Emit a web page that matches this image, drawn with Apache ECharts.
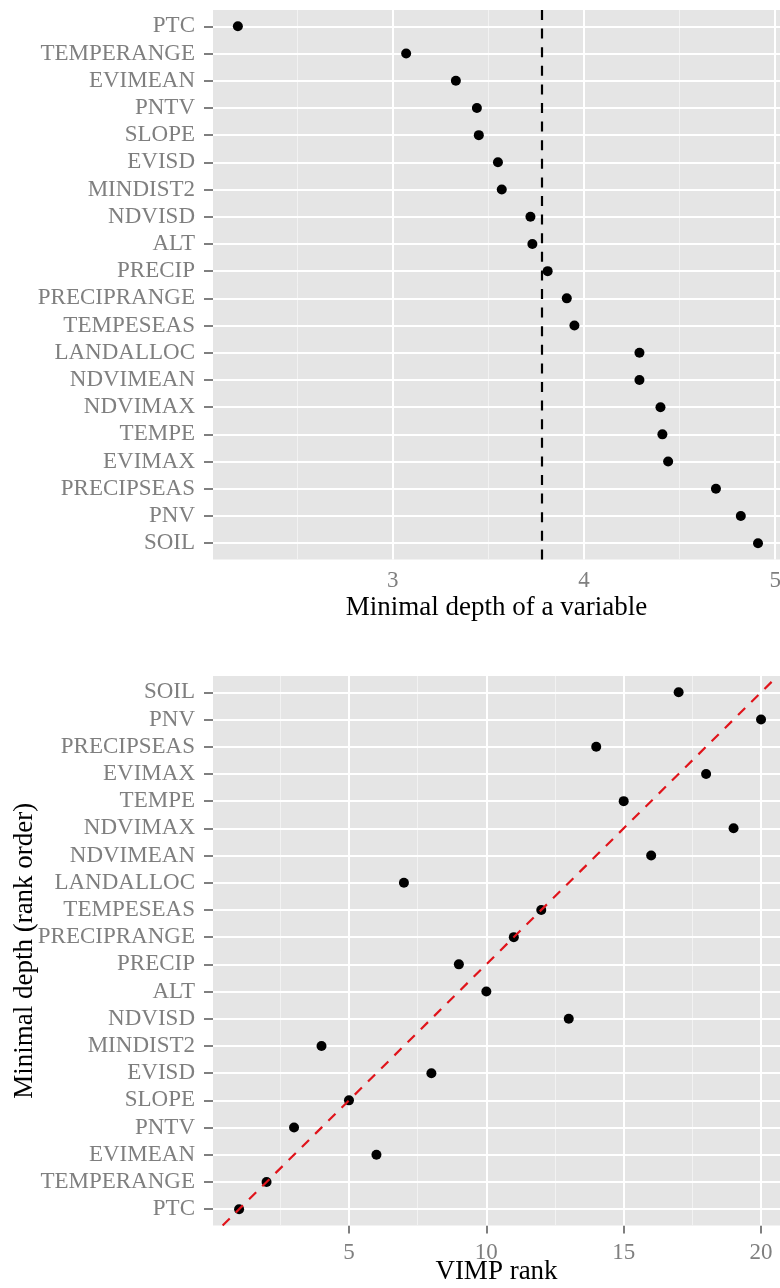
<!DOCTYPE html>
<html><head><meta charset="utf-8">
<script src="https://cdn.jsdelivr.net/npm/echarts@6/dist/echarts.min.js"></script>
<style>html,body{margin:0;padding:0;background:#fff}#c{width:780px;height:1288px}</style>
</head><body><div id="c"></div>
<script>
// Variables ordered by minimal depth (top panel order, rank 1 = PTC)
const categories = ['PTC','TEMPERANGE','EVIMEAN','PNTV','SLOPE','EVISD','MINDIST2','NDVISD','ALT','PRECIP','PRECIPRANGE','TEMPESEAS','LANDALLOC','NDVIMEAN','NDVIMAX','TEMPE','EVIMAX','PRECIPSEAS','PNV','SOIL'];
const minimalDepth = [2.19,3.07,3.33,3.44,3.45,3.55,3.57,3.72,3.73,3.81,3.91,3.95,4.29,4.29,4.40,4.41,4.44,4.69,4.82,4.91];
const depthThreshold = 3.78;
const vimpRank = [1,2,6,3,5,8,4,13,10,9,11,12,7,16,19,15,18,14,20,17];
const topMajorTicks = [3,4,5];
const topMinorTicks = [2.5,3.5,4.5];
const bottomMajorTicks = [5,10,15,20];
const bottomMinorTicks = [2.5,7.5,12.5,17.5];

const FONT = '"Liberation Serif", "DejaVu Serif", serif';
const GREY_TXT = '#7F7F7F';
const idx = categories.map((_, i) => i);
const ranks = categories.map((_, i) => i + 1);
const rankMin = 0.4, rankMax = 20.6;

function vLines(vals, width, color) { return vals.map(v => ({xAxis: v, lineStyle: {width: width, color: color, type: 'solid'}})); }
function hLines(vals, width, color) { return vals.map(v => ({yAxis: v, lineStyle: {width: width, color: color, type: 'solid'}})); }
function gridSeries(ai, data) {
  return {type: 'line', xAxisIndex: ai, yAxisIndex: ai, data: [], z: 1, silent: true,
    markLine: {silent: true, symbol: ['none','none'], label: {show: false}, animation: false, z: 1, data: data}};
}
function xAx(gi, min, max, ticks, margin, name, gap) {
  return {type: 'value', gridIndex: gi, min: min, max: max,
    splitLine: {show: false}, axisLine: {show: false},
    axisTick: {show: true, customValues: ticks, length: 8, lineStyle: {color: GREY_TXT, width: 2}},
    axisLabel: {customValues: ticks, margin: margin, color: GREY_TXT, fontSize: 23, fontFamily: FONT},
    name: name, nameLocation: 'middle', nameGap: gap, nameMoveOverlap: false,
    nameTextStyle: {fontSize: 27, color: '#000', fontFamily: FONT}};
}
function yAx(gi, min, max, vals, inverse, fmt, extra) {
  return Object.assign({type: 'value', gridIndex: gi, min: min, max: max, inverse: inverse,
    splitLine: {show: false}, axisLine: {show: false},
    axisTick: {show: true, customValues: vals, length: 9, lineStyle: {color: GREY_TXT, width: 2}},
    axisLabel: {customValues: vals, margin: 18, color: GREY_TXT, fontSize: 23, fontFamily: FONT, formatter: fmt}}, extra || {});
}

const chart = echarts.init(document.getElementById('c'), null, {renderer: 'canvas'});
chart.setOption({
  animation: false,
  backgroundColor: '#fff',
  grid: [
    {left: 213, top: 10, width: 567, height: 549.5, show: true, backgroundColor: '#E5E5E5', borderWidth: 0, containLabel: false, outerBoundsMode: 'none'},
    {left: 213, top: 676, width: 567, height: 549.5, show: true, backgroundColor: '#E5E5E5', borderWidth: 0, containLabel: false, outerBoundsMode: 'none'}
  ],
  xAxis: [
    xAx(0, 2.06, 5.025, topMajorTicks, 10, 'Minimal depth of a variable', 35),
    xAx(1, 0.05, 20.69, bottomMajorTicks, 16, 'VIMP rank', 33)
  ],
  yAxis: [
    yAx(0, -0.6, 19.6, idx, true, v => categories[Math.round(v)]),
    yAx(1, rankMin, rankMax, ranks, false, v => categories[Math.round(v) - 1],
      {name: 'Minimal depth (rank order)', nameLocation: 'middle', nameRotate: 90, nameGap: 175, nameMoveOverlap: false,
       nameTextStyle: {fontSize: 27, color: '#000', fontFamily: FONT}})
  ],
  series: [
    gridSeries(0, [].concat(vLines(topMinorTicks, 1, '#F2F2F2'), vLines(topMajorTicks, 2, '#FFFFFF'), hLines(idx, 2, '#FFFFFF'))),
    {type: 'scatter', xAxisIndex: 0, yAxisIndex: 0, z: 10, symbolSize: 10, itemStyle: {color: '#000', opacity: 1},
      data: categories.map((c, i) => [minimalDepth[i], i])},
    {type: 'line', xAxisIndex: 0, yAxisIndex: 0, data: [], z: 12, silent: true,
      markLine: {silent: true, symbol: ['none','none'], label: {show: false}, animation: false, z: 12,
        data: [{xAxis: depthThreshold, lineStyle: {color: '#000', width: 2.2, type: [10, 8.6]}}]}},
    gridSeries(1, [].concat(vLines(bottomMinorTicks, 1, '#F2F2F2'), vLines(bottomMajorTicks, 2, '#FFFFFF'), hLines(ranks, 2, '#FFFFFF'))),
    {type: 'scatter', xAxisIndex: 1, yAxisIndex: 1, z: 10, symbolSize: 10, itemStyle: {color: '#000', opacity: 1},
      data: categories.map((c, i) => [vimpRank[i], i + 1])},
    {type: 'line', xAxisIndex: 1, yAxisIndex: 1, z: 12, silent: true, symbol: 'none',
      lineStyle: {color: '#E0141B', width: 2.2, type: [10, 8.6]},
      data: [[rankMin, rankMin], [rankMax, rankMax]]}
  ]
});
</script></body></html>
